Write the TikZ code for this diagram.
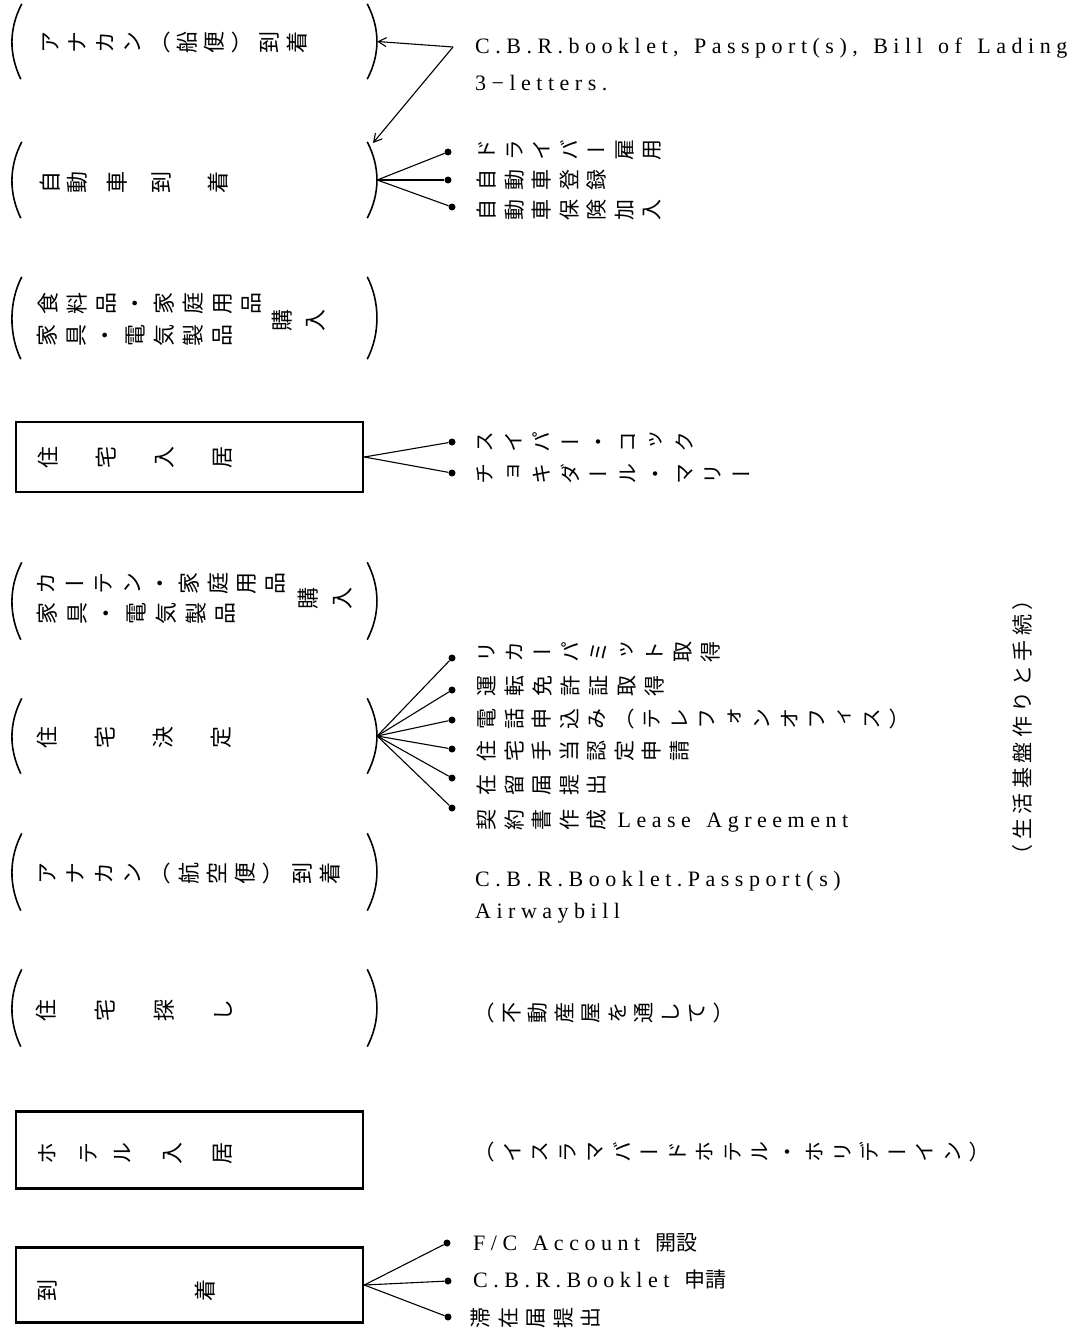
\documentclass[tikz,border=0pt]{standalone}
\usepackage{fontspec}
\usepackage{graphicx}
\usetikzlibrary{arrows.meta,calc}
\newfontfamily\vj[Vertical=RotatedGlyphs]{Noto Sans CJK JP}
\newfontfamily\hj{Noto Sans CJK JP}
\newfontfamily\lat[LetterSpace=25,WordSpace=1.4]{Liberation Serif}
\newcommand\rg[1]{\rotatebox[origin=c]{90}{\rule[-0.12em]{0pt}{1em}\smash{#1}}}
\makeatletter
\newcommand\lsp[2]{\def\lsp@gap{#1}\lsp@loop#2\relax}
\def\lsp@loop#1{\ifx\relax#1\else\rg{#1}\hspace{\lsp@gap pt}\expandafter\lsp@loop\fi}
\newcommand\hsp[2]{\def\hsp@gap{#1}\hsp@loop#2\relax}
\def\hsp@loop#1{\ifx\relax#1\else#1\hspace{\hsp@gap pt}\expandafter\hsp@loop\fi}
\makeatother
\newcommand\parpair[1]{%
  \draw[parenline] ($(#1.north west)+(10,0)$) .. controls ($(#1.north west)+(-3,25)$) and ($(#1.south west)+(-3,-25)$) .. ($(#1.south west)+(9,0)$);
  \draw[parenline] ($(#1.north east)+(-10,0)$) .. controls ($(#1.north east)+(3,25)$) and ($(#1.south east)+(3,-25)$) .. ($(#1.south east)+(-10,0)$);}
\tikzset{
  pframe/.style={minimum width=365, minimum height=#1, inner sep=0, draw=none},
  bframe/.style={minimum width=347, minimum height=#1, inner sep=0, draw, line width=2.6pt},
  parenline/.style={line width=1.6pt},
  lj/.style={anchor=west, inner sep=0, font=\vj\fontsize{22}{24}\selectfont},
  rj/.style={anchor=west, inner sep=0, font=\vj\fontsize{21}{24}\selectfont},
  rl/.style={anchor=west, inner sep=0, font=\lat\fontsize{22}{24}\selectfont},
  dotn/.style={circle, fill, inner sep=0, minimum size=7},
  fan/.style={line width=1.1pt},
  arr/.style={line width=1.1pt, -{Straight Barb[length=8pt,width=9pt]}}
}
\begin{document}
\begin{tikzpicture}[x=1pt,y=-1pt]
\fill[white] (0,0) rectangle (1085,1332);
\useasboundingbox (0,0) rectangle (1085,1332);

% ---- left column frames ----
\node[pframe=75] (l1) at (194.5,41.5) {};
\node[pframe=76] (l2) at (194.5,180) {};
\node[pframe=82] (l3) at (194.5,318) {};
\node[bframe=70] (l4) at (189.5,457) {};
\node[pframe=77] (l5) at (194.5,601) {};
\node[pframe=75] (l6) at (194.5,736) {};
\node[pframe=77] (l7) at (194.5,872) {};
\node[pframe=77] (l8) at (194.5,1008) {};
\node[bframe=77] (l9) at (189.5,1150) {};
\node[bframe=75] (l10) at (189.5,1285) {};
\parpair{l1}\parpair{l2}\parpair{l3}\parpair{l5}\parpair{l6}\parpair{l7}\parpair{l8}

% ---- left labels ----
\node[lj] (x1) at (39,43) {\lsp{5.4}{アナカン（船便）到着}};
\node[lj] (x2) at (39,183) {\rg{自}\hspace{5pt}\rg{動}\hspace{18pt}\rg{車}\hspace{22pt}\rg{到}\hspace{35pt}\rg{着}};
\node[lj] (x3a) at (37,303) {\lsp{7}{食料品・家庭用品}};
\node[lj] (x3b) at (36,335) {\lsp{7.2}{家具・電気製品}};
\node[lj] (x3c) at (271,320) {\lsp{11}{購入}};
\node[lj] (x4) at (37,457) {\lsp{36}{住宅入居}};
\node[lj] (x5a) at (35,583) {\lsp{6.6}{カーテン・家庭用品}};
\node[lj] (x5b) at (36,613) {\lsp{7.7}{家具・電気製品}};
\node[lj] (x5c) at (297,598) {\lsp{12}{購入}};
\node[lj] (x6) at (36,737) {\lsp{36}{住宅決定}};
\node[lj] (x7) at (36,873) {\lsp{6.3}{アナカン（航空便）到着}};
\node[lj] (x8) at (35,1010) {\lsp{37}{住宅探し}};
\node[lj] (x9) at (36,1153) {\rg{ホ}\hspace{19pt}\rg{テ}\hspace{12pt}\rg{ル}\hspace{28pt}\rg{入}\hspace{28pt}\rg{居}};
\node[lj] (x10) at (36,1290) {\rg{到}\hspace{136pt}\rg{着}};

% ---- arrows from documents ----
\coordinate (apex) at (453,47);
\coordinate (l2tip) at (373,143);
\draw[arr] (apex) -- (l1.east);
\draw[arr] (apex) -- (l2tip);
\node[rl] (t11) at (475,48) {C.B.R.booklet, Passport(s), Bill of Lading};
\node[rl] (t12) at (475,83) {3−letters.};

% ---- car ----
\node[dotn] (d21) at (448,152) {};
\node[dotn] (d22) at (448,180) {};
\node[dotn] (d23) at (452,207) {};
\foreach \d in {d21,d22,d23} \draw[fan] (l2.east) -- (\d);
\node[rj] (t21) at (476,150) {\lsp{6.5}{ドライバー雇用}};
\node[rj] (t22) at (476,180) {\lsp{6.5}{自動車登録}};
\node[rj] (t23) at (476,210) {\lsp{6.5}{自動車保険加入}};

% ---- house move-in ----
\node[dotn] (d41) at (452,442) {};
\node[dotn] (d42) at (452,473) {};
\foreach \d in {d41,d42} \draw[fan] (l4.east) -- (\d);
\node[rj] (t41) at (474,442) {\lsp{7.5}{スイパー・コック}};
\node[rj] (t42) at (474,474) {\lsp{7.5}{チョキダール・マリー}};

% ---- house decided ----
\node[dotn] (d61) at (452,658) {};
\node[dotn] (d62) at (452,690) {};
\node[dotn] (d63) at (452,720) {};
\node[dotn] (d64) at (452,749) {};
\node[dotn] (d65) at (452,778) {};
\node[dotn] (d66) at (452,808) {};
\foreach \d in {d61,d62,d63,d64,d65,d66} \draw[fan] (l6.east) -- (\d);
\node[rj] (t61) at (476,652) {\lsp{7}{リカーパミット取得}};
\node[rj] (t62) at (476,686) {\lsp{7}{運転免許証取得}};
\node[rj] (t63) at (476,719) {\lsp{6.5}{電話申込み（テレフォンオフィス）}};
\node[rj] (t64) at (476,751) {\lsp{6.5}{住宅手当認定申請}};
\node[rj] (t65) at (476,785) {\lsp{6.5}{在留届提出}};
\node[rj] (t66) at (476,821) {\lsp{6.5}{契約書作成}\hspace{4pt}{\lat\fontsize{22}{24}\selectfont Lease Agreement}};

% ---- air cargo ----
\node[rl] (t71) at (475,881) {C.B.R.Booklet.Passport(s)};
\node[rl] (t72) at (475,913) {Airwaybill};

% ---- house hunting / hotel ----
\node[rj] (t81) at (474,1013) {\lsp{5.5}{（不動産屋を通して）}};
\node[rj] (t91) at (474,1152) {\lsp{6.5}{（イスラマバードホテル・ホリデーイン）}};

% ---- arrival ----
\node[dotn] (d101) at (447,1243) {};
\node[dotn] (d102) at (448,1281) {};
\node[dotn] (d103) at (448,1317) {};
\foreach \d in {d101,d102,d103} \draw[fan] (l10.east) -- (\d);
\node[rl] (t101) at (473,1243) {F/C Account {\hj\fontsize{21}{24}\selectfont 開設}};
\node[rl] (t102) at (473,1279) {C.B.R.Booklet {\hj\fontsize{21}{24}\selectfont 申請}};
\node[rj] (t103) at (470,1318) {\lsp{6.5}{滞在届提出}};

% ---- side caption ----
\node[inner sep=0, rotate=90, font=\hj\fontsize{21}{24}\selectfont] (cap) at (1023,727) {\hsp{4.5}{（生活基盤作りと手続）}};
\end{tikzpicture}
\end{document}
